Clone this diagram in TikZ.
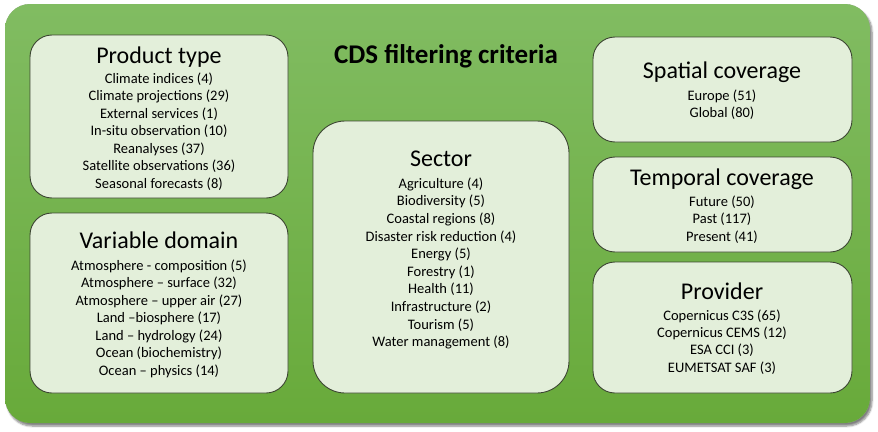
\documentclass[tikz,border=0pt]{standalone}
\usepackage{fontspec}
\setmainfont{Carlito}
\usetikzlibrary{shadows.blur}
\definecolor{bgtop}{RGB}{129,188,98}
\definecolor{bgbot}{RGB}{104,170,58}
\definecolor{boxfill}{RGB}{227,239,218}
\definecolor{boxline}{RGB}{60,70,50}
\tikzset{
  catbox/.style={draw=boxline, line width=0.9pt, fill=boxfill, rounded corners=22pt, inner sep=0pt},
  head/.style={anchor=base, font=\fontsize{24}{26}\selectfont, inner sep=0pt},
  item/.style={anchor=base, font=\fontsize{14.5}{16}\selectfont, inner sep=0pt},
  maintitle/.style={anchor=base, font=\bfseries\fontsize{27}{29}\selectfont, inner sep=0pt}
}
\begin{document}
\begin{tikzpicture}[x=1pt,y=-1pt]
\useasboundingbox (0,0) rectangle (878,431);
% outer panel
\fill[black!35, rounded corners=25pt, blur shadow={shadow blur steps=6, shadow xshift=2pt, shadow yshift=-3pt, shadow opacity=50}] (5,4) rectangle (870,423);
\shade[top color=bgtop, bottom color=bgbot, rounded corners=25pt] (5,4) rectangle (870,423);
\node[maintitle] (title) at (446,63) {CDS filtering criteria};

% boxes
\draw[catbox] (30,35) rectangle (288,198);
\node[inner sep=0pt] (ptbox) at (159,116.5) {};
\draw[catbox] (30,213) rectangle (288,393);
\node[inner sep=0pt] (vdbox) at (159,303) {};
\draw[catbox, rounded corners=32pt] (313,121) rectangle (569,393);
\node[inner sep=0pt] (sebox) at (441,257) {};
\draw[catbox] (593,37) rectangle (852,142);
\node[inner sep=0pt] (spbox) at (722,89.5) {};
\draw[catbox] (593,157) rectangle (852,252);
\node[inner sep=0pt] (tcbox) at (722,204.5) {};
\draw[catbox] (593,262) rectangle (852,393);
\node[inner sep=0pt] (prbox) at (722,327.5) {};

% Product type
\node[head] (pt) at (159,63) {Product type};
\foreach \t [count=\i from 0] in {Climate indices (4),Climate projections (29),External services (1),In-situ observation (10),Reanalyses (37),Satellite observations (36),Seasonal forecasts (8)}
  \node[item] (pt-\i) at (159,83+17.5*\i) {\t};

% Variable domain
\node[head] (vd) at (159,248) {Variable domain};
\foreach \t [count=\i from 0] in {Atmosphere - composition (5),Atmosphere {--} surface (32),Atmosphere {--} upper air (27),Land {--}biosphere (17),Land {--} hydrology (24),Ocean (biochemistry),Ocean {--} physics (14)}
  \node[item] (vd-\i) at (159,270+17.5*\i) {\t};

% Sector
\node[head] (se) at (441,166.5) {Sector};
\foreach \t [count=\i from 0] in {Agriculture (4),Biodiversity (5),Coastal regions (8),Disaster risk reduction (4),Energy (5),Forestry (1),Health (11),Infrastructure (2),Tourism (5),Water management (8)}
  \node[item] (se-\i) at (441,188.3+17.6*\i) {\t};

% Spatial coverage
\node[head] (sp) at (722,78.3) {Spatial coverage};
\foreach \t [count=\i from 0] in {Europe (51),Global (80)}
  \node[item] (sp-\i) at (722,100+17*\i) {\t};

% Temporal coverage
\node[head] (tc) at (722,185) {Temporal coverage};
\foreach \t [count=\i from 0] in {Future (50),Past (117),Present (41)}
  \node[item] (tc-\i) at (722,206.5+17.4*\i) {\t};

% Provider
\node[head] (pr) at (722,299.3) {Provider};
\foreach \t [count=\i from 0] in {Copernicus C3S (65),Copernicus CEMS (12),ESA CCI (3),EUMETSAT SAF (3)}
  \node[item] (pr-\i) at (722,320+17.4*\i) {\t};
\end{tikzpicture}
\end{document}
